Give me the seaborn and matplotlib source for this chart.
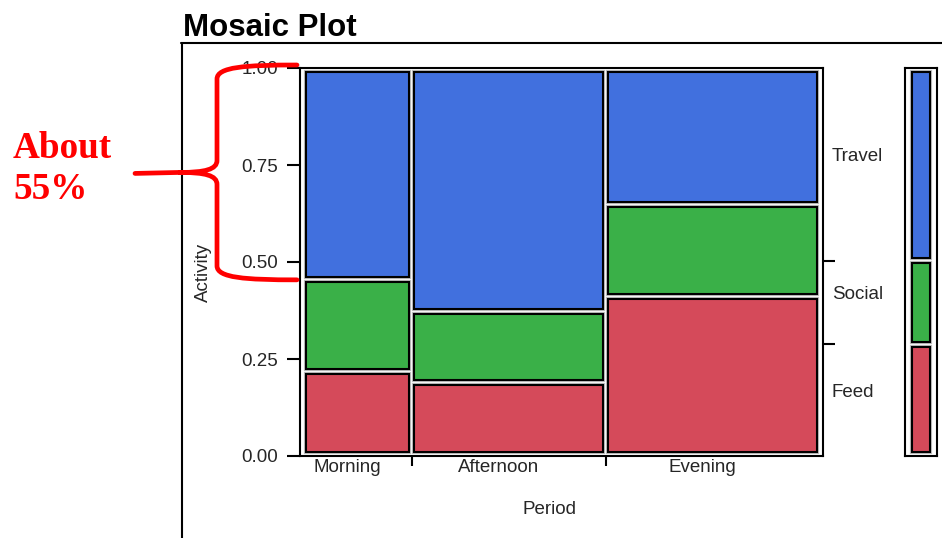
import numpy as np
import matplotlib.pyplot as plt
import seaborn as sns
from matplotlib.path import Path
from matplotlib.patches import PathPatch
from matplotlib.lines import Line2D

# Data
periods = ['Morning', 'Afternoon', 'Evening']
period_share = [0.21, 0.376, 0.414]
activities = ['Feed', 'Social', 'Travel']
# share of each activity inside each period (same order as periods)
feed = [0.217, 0.190, 0.412]
social = [0.237, 0.183, 0.236]
travel = [0.546, 0.627, 0.352]
y_ticks = [0.0, 0.25, 0.50, 0.75, 1.00]
y_ticklabels = ['0.00', '0.25', '0.50', '0.75', '1.00']
note_lines = ['About', '55%']

colors = {'Feed': '#D54A5A', 'Social': '#3AB048', 'Travel': '#4170DE'}
text_color = '#262626'

W, H = 942, 538
sns.set_style('white')
plt.rcParams['font.family'] = ['Liberation Sans', 'DejaVu Sans']
fig = plt.figure(figsize=(W / 100, H / 100), dpi=100)


def fx(px):
    return px / W


def fy(py):
    return 1 - py / H


def tile(axis, x0, x1, y0, y1, color):
    # light grey halo, then the coloured tile with a black edge
    axis.bar(x0, y1 - y0, width=x1 - x0, bottom=y0, align='edge', color='none',
             edgecolor='#bdbdbd', linewidth=3.0, zorder=2)
    axis.bar(x0, y1 - y0, width=x1 - x0, bottom=y0, align='edge', color=color,
             edgecolor='black', linewidth=1.5, zorder=3)


# Main mosaic axes
ax = fig.add_axes([fx(300), fy(456), (823 - 300) / W, (456 - 68) / H])
pad = 0.007
ax.set_xlim(-pad, 1 + pad)
ax.set_ylim(0, 1)

shares = np.array([feed, social, travel])
gx, gy = 0.0097, 0.013
edge_y = 0.0105
left = 0
for j, p in enumerate(periods):
    w = period_share[j]
    bottom = 0
    for i, a in enumerate(activities):
        h = shares[i][j]
        y0 = bottom + (edge_y if i == 0 else gy / 2)
        y1 = bottom + h - (edge_y if i == len(activities) - 1 else gy / 2)
        tile(ax, left + gx / 2, left + w - gx / 2, y0, y1, colors[a])
        bottom += h
    left += w

for s in ax.spines.values():
    s.set_color('black')
    s.set_linewidth(1.5)

# y axis
ax.set_yticks(y_ticks, y_ticklabels)
ax.tick_params(axis='y', left=True, length=9.4, width=1.5, pad=6.5, labelsize=13.5,
               labelcolor=text_color, color='black')

# x axis: ticks on the column boundaries, names under the columns
bounds = np.cumsum(period_share)[:-1]
centers = np.cumsum(period_share) - np.array(period_share) / 2
ax.set_xticks(bounds, [''] * len(bounds))
ax.tick_params(axis='x', bottom=True, length=7.2, width=1.5, color='black')
for c, p in zip(centers, periods):
    ax.annotate(p, xy=(c, 0), xycoords=('data', 'axes fraction'), xytext=(-10, -11),
                textcoords='offset pixels', ha='center', va='center', fontsize=13.5,
                color=text_color)

# right side: overall activity shares
marg = shares @ np.array(period_share)
marg_cum = np.cumsum(marg)
marg_centers = marg_cum - marg / 2
ax2 = ax.twinx()
ax2.set_ylim(0, 1)
ax2.set_yticks(marg_cum[:-1], [''] * (len(marg) - 1))
ax2.tick_params(axis='y', right=True, length=8.6, width=1.5, color='black')
for s in ax2.spines.values():
    s.set_visible(False)
for c, a in zip(marg_centers, activities):
    ax2.annotate(a, xy=(1, c), xycoords=('axes fraction', 'data'), xytext=(9, 8),
                 textcoords='offset pixels', ha='left', va='center', fontsize=13.5,
                 color=text_color)

# marginal bar
axm = fig.add_axes([fx(905), fy(456), 32 / W, (456 - 68) / H])
axm.set_xlim(0, 1)
axm.set_ylim(0, 1)
bottom = 0
for i, (h, a) in enumerate(zip(marg, activities)):
    y0 = bottom + (edge_y if i == 0 else gy / 2)
    y1 = bottom + h - (edge_y if i == len(marg) - 1 else gy / 2)
    tile(axm, 0.22, 0.78, y0, y1, colors[a])
    bottom += h
axm.set_xticks([])
axm.set_yticks([])
for s in axm.spines.values():
    s.set_color('black')
    s.set_linewidth(1.5)

# axis titles
fig.text(fx(203), fy(272), 'Activity', rotation=90, ha='center', va='center',
         fontsize=13.5, color=text_color)
fig.text(fx(550), fy(509), 'Period', ha='center', va='center', fontsize=13.5,
         color=text_color)

# title and outer frame
fig.text(fx(183), fy(35.5), 'Mosaic Plot', fontsize=22.5, fontweight='bold',
         ha='left', va='baseline', color='black')
fig.add_artist(Line2D([fx(181), 1], [fy(42.5), fy(42.5)], color='black', lw=1.5))
fig.add_artist(Line2D([fx(182), fx(182)], [fy(42.5), 0], color='black', lw=1.5))

# red brace over the Morning / Travel tile
fig.canvas.draw()
to_px = ax.transData.transform
T = H - to_px((0, 1.0))[1] - 3
B = H - to_px((0, 1 - travel[0]))[1]
M = (T + B) / 2
pts = [(297, T), (245, T), (217, T + 2), (217, T + 14),
       (217, M - 12),
       (217, M - 3), (205, M), (180, M),
       (205, M), (217, M + 3), (217, M + 12),
       (217, B - 14),
       (217, B - 2), (245, B), (297, B),
       (135, M + 1), (180, M)]
codes = [Path.MOVETO, Path.CURVE4, Path.CURVE4, Path.CURVE4,
         Path.LINETO,
         Path.CURVE4, Path.CURVE4, Path.CURVE4,
         Path.CURVE4, Path.CURVE4, Path.CURVE4,
         Path.LINETO,
         Path.CURVE4, Path.CURVE4, Path.CURVE4,
         Path.MOVETO, Path.LINETO]
brace = Path([(fx(x), fy(y)) for x, y in pts], codes)
fig.add_artist(PathPatch(brace, transform=fig.transFigure, fill=False, edgecolor='red',
                         linewidth=3.4, capstyle='round', joinstyle='round', zorder=10))

for line, base in zip(note_lines, [158, 199]):
    fig.text(fx(13), fy(base), line, family=['Liberation Serif', 'DejaVu Serif'],
             fontweight='bold', fontsize=26.7, color='red', ha='left', va='baseline')

plt.savefig('out.png', dpi=100)
plt.close()
